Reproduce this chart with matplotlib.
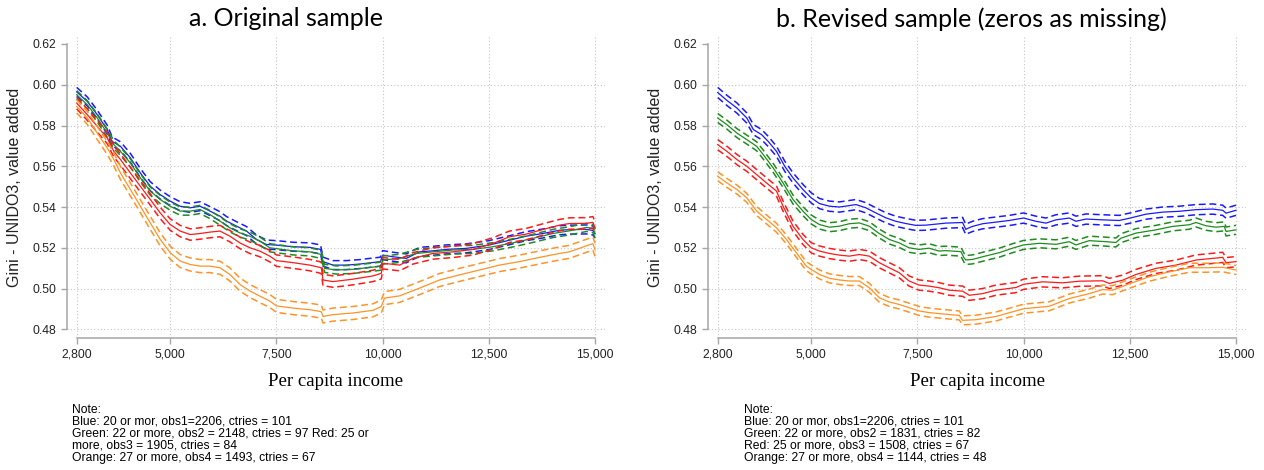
import matplotlib
matplotlib.use("Agg")
import matplotlib.pyplot as plt
from matplotlib.ticker import FixedLocator, FuncFormatter

# ---------------- data ----------------
x_ticks = [2800, 5000, 7500, 10000, 12500, 15000]
y_ticks = [0.48, 0.50, 0.52, 0.54, 0.56, 0.58, 0.60, 0.62]

panel_titles = ["a. Original sample", "b. Revised sample (zeros as missing)"]
x_title = "Per capita income"
y_title = "Gini - UNIDO3, value added"

notes_left = ["Note:",
              "Blue: 20 or mor, obs1=2206, ctries = 101",
              "Green: 22 or more, obs2 = 2148, ctries = 97 Red: 25 or",
              "more, obs3 = 1905, ctries = 84",
              "Orange: 27 or more, obs4 = 1493, ctries = 67"]
notes_right = ["Note:",
               "Blue: 20 or mor, obs1=2206, ctries = 101",
               "Green: 22 or more, obs2 = 1831, ctries = 82",
               "Red: 25 or more, obs3 = 1508, ctries = 67",
               "Orange: 27 or more, obs4 = 1144, ctries = 48"]

# (per capita income, Gini) centre estimates -- panel a
left_blue = [(2800, .5965), (3050, .5918), (3284, .5853), (3518, .5780), (3635, .5722),
             (3830, .5698), (4064, .5641), (4298, .5567), (4532, .5502), (4766, .5461),
             (5000, .5429), (5234, .5404), (5469, .5396), (5703, .5404), (5938, .5380),
             (6172, .5355), (6328, .5331), (6563, .5306), (6797, .5282), (7031, .5241),
             (7266, .5216), (7500, .5213), (7892, .5205), (8284, .5202), (8540, .5192),
             (8597, .5132), (8832, .5115), (9146, .5115), (9459, .5120), (9950, .5132),
             (10000, .5164), (10243, .5156), (10556, .5148), (10870, .5180), (11183, .5185),
             (11497, .5192), (11967, .5197), (12500, .5213), (12986, .5237), (13377, .5257),
             (13769, .5270), (14162, .5286), (14397, .5289), (14800, .5290), (14950, .5285),
             (15000, .5270)]
left_green = [(2800, .5951), (3050, .5902), (3284, .5837), (3518, .5763), (3674, .5706),
              (3830, .5673), (4064, .5616), (4298, .5543), (4532, .5478), (4766, .5437),
              (5000, .5404), (5234, .5380), (5469, .5380), (5703, .5388), (5938, .5363),
              (6172, .5331), (6406, .5298), (6641, .5273), (6875, .5257), (7109, .5233),
              (7344, .5200), (7892, .5185), (8284, .5180), (8519, .5169), (8560, .5165),
              (8636, .5099), (8911, .5091), (9302, .5094), (9851, .5107), (9960, .5110),
              (10008, .5140), (10400, .5148), (10791, .5172), (11183, .5180), (11654, .5189),
              (12124, .5192), (12594, .5205), (13064, .5224), (13534, .5246), (14005, .5270),
              (14397, .5283), (14800, .5300), (14950, .5295), (15000, .5270)]
left_red = [(2800, .5910), (3050, .5853), (3284, .5796), (3518, .5739), (3674, .5673),
            (3830, .5633), (4064, .5567), (4298, .5502), (4532, .5437), (4766, .5371),
            (5000, .5314), (5234, .5282), (5469, .5265), (5703, .5270), (5938, .5277),
            (6172, .5282), (6406, .5257), (6641, .5224), (6875, .5200), (7109, .5184),
            (7344, .5159), (7500, .5137), (7892, .5127), (8284, .5115), (8519, .5104),
            (8560, .5100), (8597, .5042), (8832, .5034), (9302, .5046), (9773, .5062),
            (9969, .5075), (10008, .5124), (10400, .5115), (10713, .5148), (11183, .5172),
            (11654, .5180), (12124, .5192), (12594, .5221), (12986, .5254), (13377, .5267),
            (13848, .5294), (14162, .5311), (14397, .5319), (14800, .5320), (14950, .5325),
            (15000, .5300)]
left_orange = [(2800, .5894), (3050, .5837), (3284, .5763), (3518, .5690), (3674, .5633),
               (3830, .5567), (4064, .5486), (4298, .5404), (4532, .5322), (4766, .5241),
               (5000, .5176), (5234, .5135), (5469, .5118), (5703, .5110), (5938, .5110),
               (6172, .5102), (6406, .5069), (6641, .5020), (6875, .4988), (7109, .4963),
               (7344, .4939), (7500, .4915), (7892, .4904), (8284, .4896), (8519, .4888),
               (8560, .4885), (8597, .4863), (8832, .4872), (9302, .4880), (9773, .4893),
               (9969, .4912), (10047, .4953), (10400, .4964), (10870, .5002), (11340, .5042),
               (11810, .5067), (12281, .5091), (12751, .5115), (13221, .5132), (13769, .5156),
               (14162, .5172), (14397, .5180), (14800, .5210), (14950, .5220), (15000, .5190)]

# panel b
right_blue = [(2800, .5962), (3018, .5923), (3251, .5886), (3484, .5837), (3640, .5780),
              (3834, .5755), (3989, .5722), (4184, .5673), (4378, .5600), (4572, .5543),
              (4806, .5486), (5000, .5445), (5195, .5417), (5430, .5404), (5664, .5400),
              (5898, .5407), (6055, .5412), (6289, .5396), (6523, .5371), (6758, .5347),
              (6992, .5330), (7227, .5319), (7461, .5310), (7695, .5311), (8171, .5321),
              (8564, .5324), (8640, .5290), (8681, .5295), (8799, .5305), (9034, .5318),
              (9349, .5326), (9662, .5334), (10000, .5346), (10290, .5330), (10526, .5321),
              (10761, .5337), (11075, .5346), (11232, .5330), (11468, .5341), (11860, .5337),
              (12253, .5334), (12512, .5346), (12881, .5365), (13273, .5375), (13666, .5379),
              (14058, .5387), (14451, .5390), (14686, .5384), (14765, .5370), (15000, .5384)]
right_green = [(2800, .5837), (3018, .5804), (3251, .5763), (3484, .5731), (3717, .5698),
               (3873, .5657), (4106, .5592), (4339, .5518), (4572, .5437), (4806, .5380),
               (5000, .5339), (5195, .5314), (5430, .5301), (5664, .5306), (5898, .5318),
               (6133, .5322), (6367, .5306), (6602, .5270), (6836, .5241), (7070, .5224),
               (7305, .5200), (7539, .5192), (7773, .5198), (8008, .5184), (8171, .5186),
               (8524, .5181), (8600, .5150), (8642, .5140), (8799, .5143), (9113, .5160),
               (9427, .5176), (9741, .5198), (10000, .5214), (10369, .5222), (10761, .5217),
               (11075, .5230), (11232, .5214), (11546, .5235), (11939, .5230), (12174, .5226),
               (12292, .5247), (12645, .5272), (13116, .5288), (13509, .5305), (13901, .5313),
               (14058, .5324), (14293, .5308), (14529, .5301), (14725, .5305), (14765, .5280),
               (15000, .5288)]
right_red = [(2800, .5706), (3018, .5673), (3251, .5633), (3484, .5600), (3717, .5559),
             (3950, .5518), (4184, .5478), (4339, .5404), (4572, .5306), (4806, .5241),
             (5000, .5200), (5195, .5184), (5430, .5172), (5664, .5164), (5898, .5159),
             (6133, .5167), (6367, .5159), (6602, .5127), (6836, .5102), (7070, .5078),
             (7305, .5037), (7539, .5017), (7773, .5012), (8008, .5004), (8249, .4992),
             (8564, .4987), (8721, .4967), (9034, .4975), (9349, .4992), (9819, .5005),
             (10000, .5021), (10447, .5033), (10918, .5028), (11311, .5036), (11860, .5038),
             (12017, .5025), (12331, .5041), (12645, .5069), (13116, .5099), (13587, .5115),
             (14058, .5140), (14451, .5148), (14686, .5153), (14765, .5127), (15000, .5132)]
right_orange = [(2800, .5551), (3018, .5518), (3251, .5486), (3484, .5445), (3717, .5380),
                (3950, .5339), (4184, .5298), (4417, .5241), (4650, .5176), (4884, .5110),
                (5000, .5094), (5195, .5069), (5430, .5050), (5664, .5042), (5898, .5037),
                (6133, .5037), (6367, .5004), (6602, .4955), (6836, .4934), (7070, .4922),
                (7305, .4906), (7539, .4890), (7773, .4882), (8008, .4877), (8485, .4868),
                (8564, .4844), (8877, .4847), (9349, .4863), (10000, .4901), (10604, .4913),
                (11075, .4951), (11546, .4975), (11860, .4995), (12096, .4992), (12512, .5025),
                (12959, .5058), (13430, .5082), (13901, .5102), (14293, .5102), (14686, .5104),
                (15000, .5091)]

# confidence-band half widths
left_half = [0.0022, 0.0020, 0.0028, 0.0032]
right_half = [0.0025, 0.0022, 0.0025, 0.0022]

colors = ["#1a1aff", "#1e8c1e", "#ff1a1a", "#ff9326"]

# ---------------- figure ----------------
W, H = 1264, 470
fig = plt.figure(figsize=(W / 100, H / 100), dpi=100)
SANS = ["Liberation Sans", "DejaVu Sans"]


def rect(left, top, right, bottom):
    return [left / W, 1 - bottom / H, (right - left) / W, (bottom - top) / H]


def draw_panel(ax, series, halves):
    for (pts, hw, c) in zip(series, halves, colors):
        xs = [p[0] for p in pts]
        ys = [p[1] for p in pts]
        ax.plot(xs, ys, color=c, lw=0.9, solid_joinstyle="miter", zorder=3)
        ax.plot(xs, [y + hw for y in ys], color=c, lw=1.1, ls=(0, (4.5, 2.5)), zorder=3)
        ax.plot(xs, [y - hw for y in ys], color=c, lw=1.1, ls=(0, (4.5, 2.5)), zorder=3)
    ax.set_xlim(2564.6, 15235)
    ax.set_ylim(0.47558, 0.62343)
    for s in ["top", "right"]:
        ax.spines[s].set_visible(False)
    for s in ["left", "bottom"]:
        ax.spines[s].set_color("#a6a6a6")
        ax.spines[s].set_linewidth(1.1)
    ax.spines["left"].set_bounds(0.48, 0.62)
    ax.spines["bottom"].set_bounds(2800, 15000)
    ax.xaxis.set_major_locator(FixedLocator(x_ticks))
    ax.yaxis.set_major_locator(FixedLocator(y_ticks))
    ax.xaxis.set_major_formatter(FuncFormatter(lambda v, p: f"{int(v):,}"))
    ax.yaxis.set_major_formatter(FuncFormatter(lambda v, p: f"{v:.2f}"))
    ax.tick_params(axis="both", length=4.5, width=1.0, color="#a6a6a6",
                   labelsize=8.8, labelcolor="#222222", pad=3)
    for lab in ax.get_xticklabels() + ax.get_yticklabels():
        lab.set_family(SANS)
    for xv in x_ticks:
        ax.axvline(xv, color="#c4c4c4", lw=0.8, ls=(0, (1, 2)), zorder=1)
    for yv in y_ticks[:-1]:
        ax.axhline(yv, color="#c4c4c4", lw=0.8, ls=(0, (1, 2)), zorder=1)


axL = fig.add_axes(rect(66.7, 37, 605, 338.3))
axR = fig.add_axes(rect(707.7, 37, 1246, 338.3))
draw_panel(axL, [left_blue, left_green, left_red, left_orange], left_half)
draw_panel(axR, [right_blue, right_green, right_red, right_orange], right_half)

# titles
fig.text(286 / W, 1 - 19 / H, panel_titles[0], ha="center", va="center",
         fontsize=18, family=["Lato", "DejaVu Sans"], color="black")
fig.text(971 / W, 1 - 19 / H, panel_titles[1], ha="center", va="center",
         fontsize=18, family=["Lato", "DejaVu Sans"], color="black")

# axis titles
for cx in (336, 977):
    fig.text(cx / W, 1 - 381 / H, x_title, ha="center", va="center",
             fontsize=13.5, family=["Liberation Serif", "DejaVu Serif"], color="black")
for cx in (15, 656):
    fig.text(cx / W, 1 - 187 / H, y_title, ha="center", va="center", rotation=90,
             fontsize=11.5, family=SANS, color="#222222")

# notes
line_y = [410, 422, 434, 446, 458]
for (x0, lines) in ((72, notes_left), (744, notes_right)):
    for ly, t in zip(line_y, lines):
        fig.text(x0 / W, 1 - ly / H, t, ha="left", va="center",
                 fontsize=8.7, family=SANS, color="black")

fig.savefig("out.png", dpi=100)
